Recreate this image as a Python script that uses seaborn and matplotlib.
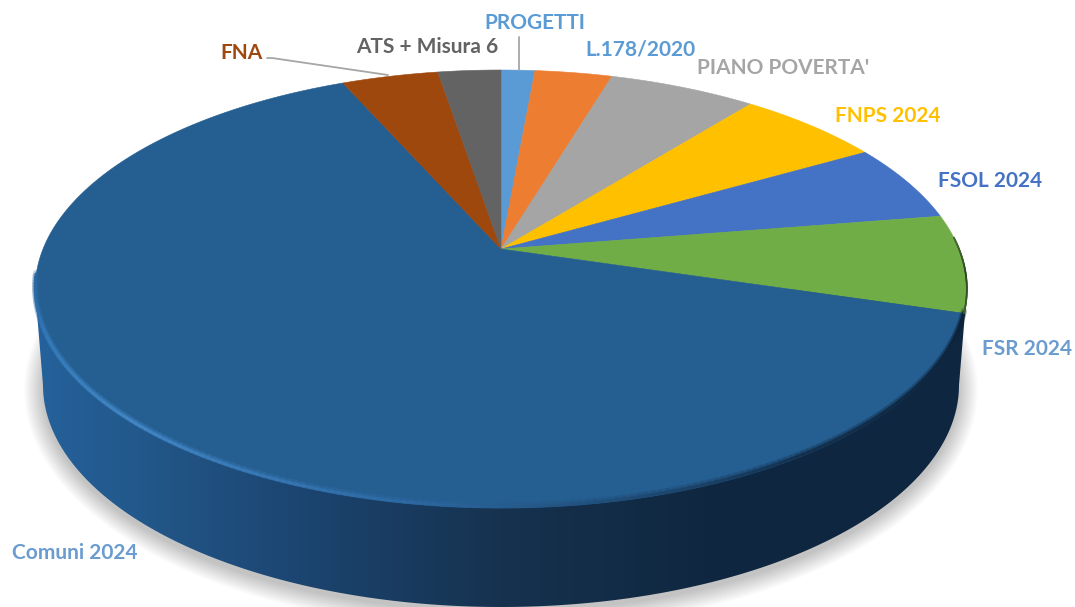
import numpy as np
import matplotlib
matplotlib.use('Agg')
import matplotlib.pyplot as plt
import seaborn as sns
from matplotlib.collections import LineCollection
from matplotlib.colors import LinearSegmentedColormap
from matplotlib.patches import Polygon
from matplotlib.transforms import Affine2D

# Slices, clockwise from 12 o'clock (shares, in %)
labels = ['PROGETTI', 'L.178/2020', "PIANO POVERTA'", 'FNPS 2024', 'FSOL 2024',
          'FSR 2024', 'Comuni 2024', 'FNA', 'ATS + Misura 6']
shares = [1.4, 3.2, 6.1, 6.0, 5.75, 7.2, 63.75, 4.0, 2.6]
slice_colors = ['#5b9bd5', '#ed7d31', '#a5a5a5', '#ffc000', '#4472c4',
                '#70ad47', '#255e91', '#9e480e', '#636363']
label_colors = ['#5b9bd5', '#5b9bd5', '#a5a5a5', '#ffc000', '#4472c4',
                '#6a9ccf', '#6a9ccf', '#9e480e', '#636363']
label_xy = [(535, 23), (640, 50), (783, 68), (888, 116), (990, 181),
            (1027, 349), (75, 553), (242, 53), (427, 47)]

sns.set_theme(style='white')
plt.rcParams['font.family'] = ['Lato', 'DejaVu Sans']

# Perspective of the disc, in pixels of the picture
CX, CY = 501, 249
A, B, K = 458, 211.7, 0.1827
BOTTOM_CY, BOTTOM_A, BOTTOM_B = 385, 458, 222


def project(x, y):
    return CX + A * x / (1 + K * y), CY - B * y / (1 + K * y)


def rim(a1, a2, n=200):
    # a1, a2: degrees clockwise from the top
    t = np.radians(np.linspace(a1, a2, n))
    return project(np.sin(t), np.cos(t))


def rim_line(a1, a2, cmap, lw, alpha, shift=0.0):
    xs, ys = rim(a1, a2)
    pts = np.column_stack([xs, ys - shift])
    segs = np.stack([pts[:-1], pts[1:]], axis=1)
    lc = LineCollection(segs, cmap=cmap, linewidths=lw, alpha=alpha, zorder=5,
                        capstyle='round')
    lc.set_array(np.linspace(0, 1, len(segs)))
    ax.add_collection(lc)


fig, ax = plt.subplots(figsize=(10.75, 6.07), dpi=100)
fig.subplots_adjust(0, 0, 1, 1)

wedges, _ = ax.pie(shares, colors=sns.color_palette(slice_colors), startangle=90,
                   counterclock=False)
ax.set_aspect('auto')
scale = Affine2D().scale(2000)
for w, c in zip(wedges, slice_colors):
    vx, vy = (w.get_path().to_polygons(scale)[0] / 2000).T
    px, py = project(vx, vy)
    ax.fill(px, py, color=c, lw=0.4, zorder=4)
    w.remove()

# soft shadow under the disc
t = np.radians(np.linspace(0, 360, 300))
for grow in range(0, 20):
    ax.fill(CX + (BOTTOM_A + grow) * np.cos(t),
            BOTTOM_CY + 5 + (BOTTOM_B + grow) * np.sin(t),
            color='black', alpha=0.011, lw=0, zorder=1)

# extruded side with left to right shading
t = np.radians(np.linspace(180, 0, 300))
hull_x = np.r_[CX - 466, CX + BOTTOM_A * np.cos(t), CX + 466]
hull_y = np.r_[289, BOTTOM_CY + BOTTOM_B * np.sin(t), 289]
side_cmap = LinearSegmentedColormap.from_list(
    'side', [(0, '#25619b'), (0.12, '#225789'), (0.28, '#1c4571'),
             (0.5, '#16324f'), (0.72, '#102740'), (1, '#0f2640')])
im = ax.imshow(np.linspace(0, 1, 256)[None, :], cmap=side_cmap, aspect='auto',
               extent=[36, 967, 607, 0], zorder=2)
im.set_clip_path(Polygon(np.column_stack([hull_x, hull_y]), transform=ax.transData))

# bevel along the front of the top face
edges = np.cumsum(shares) * 3.6
comuni_a1 = edges[5]
glow = LinearSegmentedColormap.from_list(
    'glow', [(0, '#0c2238'), (0.25, '#13304d'), (0.55, '#2f6da8'),
             (0.75, '#4387c6'), (0.9, '#357ab8'), (1, '#2a66a0')])
rim_line(comuni_a1, 263, glow, 2.2, 0.9, shift=1.5)
rim_line(comuni_a1, 263, glow, 4.5, 0.25, shift=2.5)
dark_edge = LinearSegmentedColormap.from_list('edge', ['#4a6a3a', '#2f4a20', '#3f5f2a'])
rim_line(edges[4] + 6, comuni_a1, dark_edge, 1.2, 0.8)

# labels and leader lines
for name, c, (x, y) in zip(labels, label_colors, label_xy):
    ax.text(x, y, name, color=c, fontsize=15, fontweight='bold', ha='center', va='center',
            zorder=6)
ax.plot([519, 519], [37, 70], color='#a6a6a6', lw=1.3, zorder=6)
ax.plot([267, 272, 388], [58, 58, 75], color='#a6a6a6', lw=1.3, zorder=6)

ax.set_xlim(0, 1075)
ax.set_ylim(607, 0)
ax.axis('off')
fig.savefig('out.png', dpi=100)
